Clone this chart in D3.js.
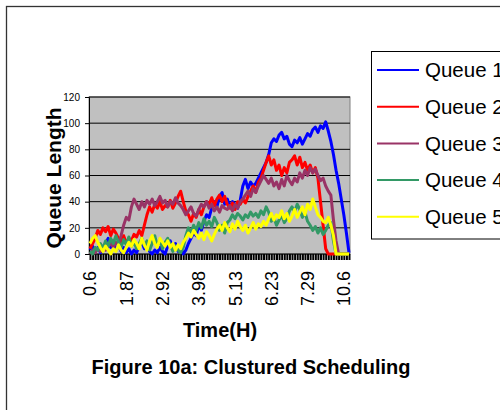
<!DOCTYPE html>
<html>
<head>
<meta charset="utf-8">
<script src="https://cdn.jsdelivr.net/npm/d3@7"></script>
<style>
    body { margin: 0; background: #fff; }
    svg { display: block; font-family: "Liberation Sans", Arial, sans-serif; }
</style>
</head>
<body>
<div id="chart"></div>
<script>
// ========================
// Data
// ========================
const seriesNames = ["Queue 1", "Queue 2", "Queue 3", "Queue 4", "Queue 5"];
const seriesColors = ["#0000ff", "#ff0000", "#993366", "#339966", "#ffff00"];

// x category labels shown on the axis, and the category index where each sits
const tickLabels = ["0.6", "1.87", "2.92", "3.98", "5.13", "6.23", "7.29", "10.6"];
const tickIndex = [0, 14, 28, 42, 56, 70, 84, 98];

const yTicks = [0, 20, 40, 60, 80, 100, 120];

const queue1 = [
    3, 6, 2, 5, 1, 4,
    8, 12, 5, 10, 3, 7,
    2, 5, 1, 4, 0, 3,
    1, 6, 9, 4, 8, 2,
    0, 3, 1, 5, 2, 0,
    6, 10, 4, 8, 2, 5,
    0, 3, 8, 12, 16, 14,
    22, 18, 25, 30, 28, 35,
    40, 36, 44, 47, 38, 42,
    36, 40, 38, 35, 41, 52,
    57, 50, 55, 52, 54, 58,
    62, 66, 70, 76, 85, 88,
    86, 91, 93, 88, 90, 84,
    82, 87, 85, 89, 84, 88,
    92, 90, 95, 97, 93, 98,
    96, 101,
    94, 86, 76, 64, 54, 42, 30, 16, 1
];
const queue2 = [
    4, 8, 12, 18, 15, 20,
    17, 21, 14, 19, 16, 12,
    9, 14, 8, 12, 10, 15,
    13, 18, 14, 22, 30, 36,
    32, 38, 35, 40, 34, 37,
    36, 41, 35, 39, 44, 48,
    40, 33, 30, 25, 31, 28,
    34, 30, 36, 40, 38, 43,
    37, 42, 45, 40, 44, 38,
    35, 39, 34, 40, 38, 42,
    39, 44, 48, 52, 47, 55,
    58, 64, 70, 75, 68, 72,
    64, 68, 60, 66, 62, 70,
    72, 75, 68, 74, 66, 70,
    64, 68, 62, 66, 58, 40,
    22, 4, 0, 0, 0, 0,
    0, 0, 0, 0, 0
];
const queue3 = [
    0, 3, 1, 4, 2, 5,
    3, 6, 8, 5, 9, 7,
    14, 22, 28, 26, 36, 42,
    38, 34, 40, 36, 41, 38,
    42, 37, 40, 44, 39, 41,
    36, 40, 38, 43, 39, 37,
    34, 30, 33, 36, 31, 29,
    34, 38, 36, 40, 35, 38,
    33, 36, 32, 37, 35, 34,
    37, 33, 38, 35, 40, 42,
    45, 48, 44, 50, 47, 52,
    56, 60, 57, 54, 58, 52,
    55, 50, 57, 52, 60, 56,
    53, 58, 55, 62, 58, 64,
    60, 66, 62, 65, 60, 56,
    58, 52, 48, 45, 26, 10,
    0, 0, 0, 0, 0
];
const queue4 = [
    2, 0, 5, 3, 8, 4,
    10, 6, 12, 8, 14, 9,
    5, 11, 7, 13, 6, 9,
    4, 8, 12, 6, 10, 3,
    8, 14, 6, 11, 4, 9,
    12, 7, 2, 6, 3, 1,
    5, 14, 20, 16, 22, 18,
    24, 20, 27, 22, 25, 21,
    28, 24, 18, 22, 16, 24,
    26, 30, 27, 31, 29, 26,
    30, 28, 32, 29, 31, 28,
    33, 30, 36, 32, 25, 28,
    22, 26, 30, 24, 27, 33,
    36, 32, 38, 34, 28, 32,
    25, 22, 18, 21, 16, 20,
    15, 18, 22, 24, 10, 0,
    0, 0, 0, 0, 0
];
const queue5 = [
    8, 12, 14, 9, 5, 2,
    6, 3, 0, 4, 2, 7,
    3, 1, 5, 9, 6, 11,
    8, 4, 12, 7, 3, 10,
    14, 8, 5, 12, 9, 6,
    10, 5, 8, 3, 7, 4,
    9, 12, 16, 13, 18, 15,
    12, 16, 11, 17, 14, 10,
    15, 19, 22, 18, 24, 20,
    17, 23, 19, 25, 21, 18,
    22, 16, 20, 24, 19, 23,
    21, 25, 22, 27, 31, 26,
    30, 28, 33, 27, 31, 25,
    29, 34, 28, 32, 36, 30,
    38, 34, 42, 36, 30, 28,
    25, 24, 28, 22, 14, 0,
    0, 0, 0, 0, 0
];
const seriesValues = [queue1, queue2, queue3, queue4, queue5];

// ========================
// Setup
// ========================
const width = 500;
const height = 410;
const plot = { left: 89, right: 350, top: 97, bottom: 254 };

const svg = d3.select("#chart")
    .append("svg")
    .attr("width", width)
    .attr("height", height);

// outer frame (runs off the right and bottom edges)
svg.append("rect")
    .attr("x", 6.5)
    .attr("y", 6.5)
    .attr("width", 560)
    .attr("height", 460)
    .attr("fill", "#fff")
    .attr("stroke", "#333")
    .attr("stroke-width", 1.3);

const indices = d3.range(queue1.length);

const x = d3.scalePoint()
    .domain(indices)
    .range([plot.left + 1, plot.right - 1]);

const y = d3.scaleLinear()
    .domain([0, 120])
    .range([plot.bottom, plot.top]);

// ========================
// Plot area + gridlines
// ========================
svg.append("rect")
    .attr("x", plot.left)
    .attr("y", plot.top)
    .attr("width", plot.right - plot.left)
    .attr("height", plot.bottom - plot.top)
    .attr("fill", "#c0c0c0")
    .attr("stroke", "#808080");

svg.append("g")
    .selectAll("line")
    .data(yTicks.filter(d => d > 0))
    .join("line")
    .attr("x1", plot.left)
    .attr("x2", plot.right)
    .attr("y1", d => y(d))
    .attr("y2", d => y(d))
    .attr("stroke", "#000")
    .attr("stroke-width", 1);

// ========================
// Axes
// ========================
const yAxis = svg.append("g")
    .attr("transform", `translate(${plot.left},0)`)
    .call(d3.axisLeft(y).tickValues(yTicks).tickSize(4).tickPadding(5));
yAxis.select(".domain").attr("stroke", "#000");
yAxis.selectAll("text")
    .style("font-size", "10px")
    .style("font-family", "'Liberation Sans', Arial, sans-serif")
    .attr("fill", "#000");

const xAxis = svg.append("g")
    .attr("transform", `translate(0,${plot.bottom})`)
    .call(d3.axisBottom(x).tickSize(6).tickFormat(""));
xAxis.select(".domain")
    .attr("d", `M${plot.left},0H${plot.right}`)
    .attr("stroke", "#000");
xAxis.selectAll(".tick line")
    .attr("stroke", "#000")
    .attr("stroke-width", 2);

// rotated category labels
svg.append("g")
    .selectAll("text")
    .data(tickIndex)
    .join("text")
    .attr("transform", (d, i) => `translate(${x(d)},271) rotate(-90)`)
    .attr("text-anchor", "end")
    .attr("dy", "0.36em")
    .style("font-size", "18px")
    .text((d, i) => tickLabels[i]);

// axis titles
svg.append("text")
    .attr("transform", "translate(61,178) rotate(-90)")
    .attr("text-anchor", "middle")
    .style("font-size", "21px")
    .style("font-weight", "bold")
    .text("Queue Length");

svg.append("text")
    .attr("x", 220)
    .attr("y", 337)
    .attr("text-anchor", "middle")
    .style("font-size", "20px")
    .style("font-weight", "bold")
    .text("Time(H)");

svg.append("text")
    .attr("x", 251)
    .attr("y", 374)
    .attr("text-anchor", "middle")
    .style("font-size", "20px")
    .style("font-weight", "bold")
    .text("Figure 10a: Clustured Scheduling");

// ========================
// Series lines
// ========================
const line = d3.line()
    .x((d, i) => x(i))
    .y(d => y(d));

svg.append("g")
    .selectAll("path")
    .data(seriesValues)
    .join("path")
    .attr("d", line)
    .attr("fill", "none")
    .attr("stroke", (d, i) => seriesColors[i])
    .attr("stroke-width", 3)
    .attr("stroke-linejoin", "round");

// ========================
// Legend
// ========================
const legend = svg.append("g");

legend.append("rect")
    .attr("x", 371.5)
    .attr("y", 51.5)
    .attr("width", 160)
    .attr("height", 187.5)
    .attr("fill", "#fff")
    .attr("stroke", "#000");

const rows = legend.selectAll("g.legend-row")
    .data(seriesNames)
    .join("g")
    .attr("class", "legend-row")
    .attr("transform", (d, i) => `translate(0,${70 + i * 36.7})`);

rows.append("line")
    .attr("x1", 377)
    .attr("x2", 419)
    .attr("stroke", (d, i) => seriesColors[i])
    .attr("stroke-width", 2);

rows.append("text")
    .attr("x", 425)
    .attr("dy", "0.35em")
    .style("font-size", "20.5px")
    .text(d => d);
</script>
</body>
</html>
